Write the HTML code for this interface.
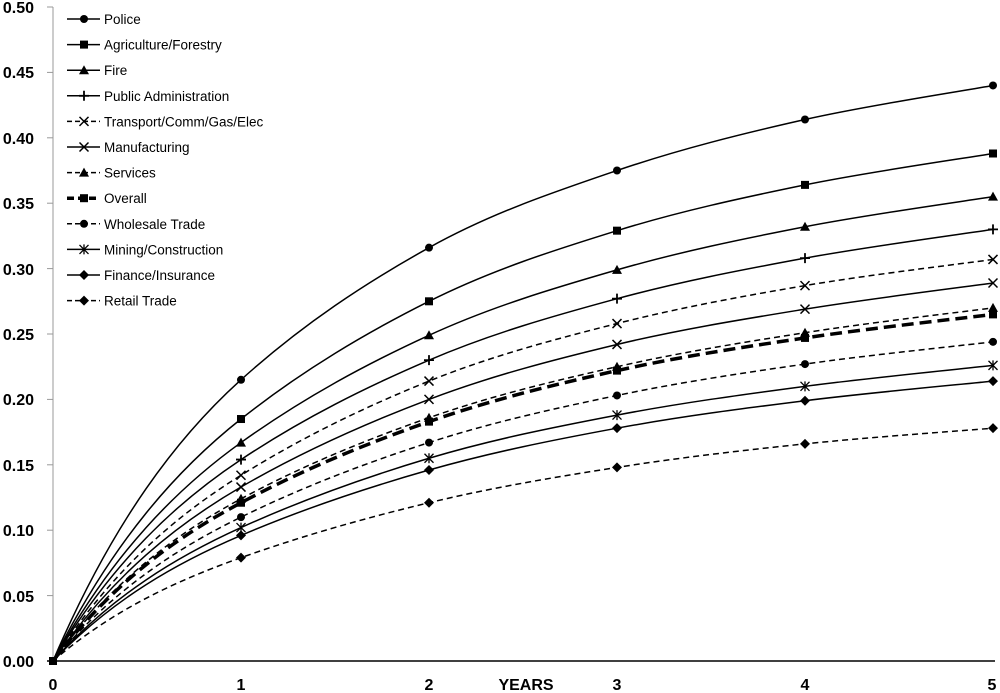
<!DOCTYPE html>
<html><head><meta charset="utf-8"><style>
body{margin:0;background:#fff}
svg{display:block}
text{font-family:"Liberation Sans",sans-serif}
</style></head><body>
<svg id="c" width="1000" height="693" viewBox="0 0 1000 693" xmlns="http://www.w3.org/2000/svg">
<line x1="53" y1="7" x2="53" y2="661" stroke="#999" stroke-width="1"/>
<g stroke="#999">
<line x1="47" y1="7" x2="53" y2="7"/><line x1="47" y1="72.4" x2="53" y2="72.4"/><line x1="47" y1="137.8" x2="53" y2="137.8"/><line x1="47" y1="203.2" x2="53" y2="203.2"/><line x1="47" y1="268.6" x2="53" y2="268.6"/><line x1="47" y1="334" x2="53" y2="334"/><line x1="47" y1="399.4" x2="53" y2="399.4"/><line x1="47" y1="464.8" x2="53" y2="464.8"/><line x1="47" y1="530.2" x2="53" y2="530.2"/><line x1="47" y1="595.6" x2="53" y2="595.6"/><line x1="47" y1="661" x2="53" y2="661"/>
</g>
<line x1="47" y1="661" x2="995" y2="661" stroke="#000" stroke-width="1.5"/>
<g font-size="16" font-weight="bold" text-anchor="end">
<text x="34" y="13">0.50</text><text x="34" y="78">0.45</text><text x="34" y="144">0.40</text><text x="34" y="209">0.35</text><text x="34" y="275">0.30</text><text x="34" y="340">0.25</text><text x="34" y="405">0.20</text><text x="34" y="471">0.15</text><text x="34" y="536">0.10</text><text x="34" y="602">0.05</text><text x="34" y="667">0.00</text>
</g>
<g font-size="16" font-weight="bold" text-anchor="middle">
<text x="53" y="690">0</text><text x="241" y="690">1</text><text x="429" y="690">2</text><text x="617" y="690">3</text><text x="805" y="690">4</text><text x="992" y="690">5</text><text x="526" y="690">YEARS</text>
</g>
<g id="series"></g>
<g id="legend" font-size="13.5">
<text x="104" y="24">Police</text>
<text x="104" y="49.6">Agriculture/Forestry</text>
<text x="104" y="75.2">Fire</text>
<text x="104" y="100.8">Public Administration</text>
<text x="104" y="126.4">Transport/Comm/Gas/Elec</text>
<text x="104" y="152">Manufacturing</text>
<text x="104" y="177.6">Services</text>
<text x="104" y="203.2">Overall</text>
<text x="104" y="228.8">Wholesale Trade</text>
<text x="104" y="254.4">Mining/Construction</text>
<text x="104" y="280">Finance/Insurance</text>
<text x="104" y="305.6">Retail Trade</text>
</g>
</svg>
<script>
var S=[
["circle","",1.5,[0.215,0.316,0.375,0.414,0.440]],
["square","",1.5,[0.185,0.275,0.329,0.364,0.388]],
["tri","",1.5,[0.167,0.249,0.299,0.332,0.355]],
["plus","",1.5,[0.154,0.230,0.277,0.308,0.330]],
["x","6,4",1.5,[0.142,0.214,0.258,0.287,0.307]],
["x","",1.5,[0.133,0.200,0.242,0.269,0.289]],
["tri","6,4",1.5,[0.124,0.186,0.225,0.251,0.270]],
["square","12,6",3.5,[0.121,0.183,0.222,0.247,0.265]],
["circle","6,4",1.5,[0.110,0.167,0.203,0.227,0.244]],
["star","",1.5,[0.102,0.155,0.188,0.210,0.226]],
["diamond","",1.5,[0.096,0.146,0.178,0.199,0.214]],
["diamond","6,4",1.5,[0.079,0.121,0.148,0.166,0.178]]];
var NS="http://www.w3.org/2000/svg";
function X(i){return 53+i*188;}function Y(v){return 661-v*1308;}
function el(t,a,p){var e=document.createElementNS(NS,t);for(var k in a)e.setAttribute(k,a[k]);p.appendChild(e);return e;}
function marker(type,x,y,p){
 if(type=="circle")el("circle",{cx:x,cy:y,r:4,fill:"#000"},p);
 else if(type=="square")el("rect",{x:x-4,y:y-4,width:8,height:8,fill:"#000"},p);
 else if(type=="tri")el("polygon",{points:(x)+","+(y-5)+" "+(x-5)+","+(y+4)+" "+(x+5)+","+(y+4),fill:"#000"},p);
 else if(type=="diamond")el("polygon",{points:x+","+(y-5)+" "+(x+5)+","+y+" "+x+","+(y+5)+" "+(x-5)+","+y,fill:"#000"},p);
 else if(type=="plus")el("path",{d:"M"+(x-5)+" "+y+"h10M"+x+" "+(y-5)+"v10",stroke:"#000","stroke-width":1.8},p);
 else if(type=="x")el("path",{d:"M"+(x-4.5)+" "+(y-4.5)+"l9 9M"+(x+4.5)+" "+(y-4.5)+"l-9 9",stroke:"#000","stroke-width":1.5},p);
 else if(type=="star")el("path",{d:"M"+(x-4.5)+" "+(y-4.5)+"l9 9M"+(x+4.5)+" "+(y-4.5)+"l-9 9M"+x+" "+(y-5)+"v10",stroke:"#000","stroke-width":1.3},p);
}
var g=document.getElementById("series"),L=document.getElementById("legend");
S.forEach(function(s,k){
 var v=s[3];
 var pts=[[X(0),Y(0)]];v.forEach(function(q,i){pts.push([X(i+1),Y(q)]);});
 var d="M"+pts[0][0]+" "+pts[0][1];
 for(var i=0;i<pts.length-1;i++){
  var p0=pts[Math.max(0,i-1)],p1=pts[i],p2=pts[i+1],p3=pts[Math.min(pts.length-1,i+2)];
  var t=1/6,c1,c2;
  if(i==0){c1=[53+60,661-0.5*v[0]*1308];
   var sl=(v[1]-v[0])*0.75+v[0]*0.25; /* slope per year at x=1 */
   c2=[X(1)-62.7,Y(v[0]-sl/3)];}
  else{c1=[p1[0]+(p2[0]-p0[0])*t,p1[1]+(p2[1]-p0[1])*t];
   c2=[p2[0]-(p3[0]-p1[0])*t,p2[1]-(p3[1]-p1[1])*t];}
  if(i==1){var sl1=(v[1]-v[0])*0.75+v[0]*0.25;c1=[X(1)+62.7,Y(v[0]+sl1/3)];}
  d+="C"+c1[0]+" "+c1[1]+" "+c2[0]+" "+c2[1]+" "+p2[0]+" "+p2[1];
 }
 var a={d:d,fill:"none",stroke:"#000","stroke-width":s[2]};if(s[1])a["stroke-dasharray"]=s[1];
 el("path",a,g);
 pts.slice(1).forEach(function(p){marker(s[0],p[0],p[1],g);});
 var ly=19+k*25.6;
 var la={x1:67,y1:ly,x2:100,y2:ly,stroke:"#000","stroke-width":s[2]};if(s[1])la["stroke-dasharray"]=s[2]>2?"7,4":"5,3";
 el("line",la,L);marker(s[0],84,ly,L);
});
marker("square",53,661,g);
</script>
</body></html>
